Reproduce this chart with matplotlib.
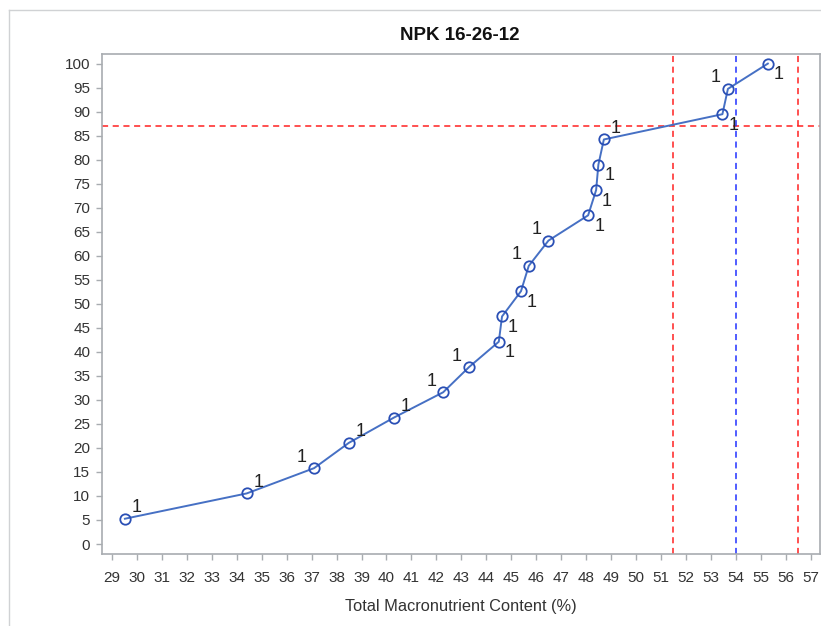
import matplotlib
matplotlib.use("Agg")
import matplotlib.pyplot as plt
from matplotlib.lines import Line2D

plt.rcParams["font.family"] = ["Liberation Sans", "DejaVu Sans"]

# ------------------------------------------------------------------- data
total_content = [29.52, 34.40, 37.10, 38.49, 40.30, 42.27, 43.31, 44.50, 44.63,
                 45.39, 45.70, 46.49, 48.08, 48.40, 48.49, 48.71, 53.46, 53.68,
                 55.28]
cum_percent = [5.26, 10.53, 15.79, 21.05, 26.32, 31.58, 36.84, 42.11, 47.37,
               52.63, 57.89, 63.16, 68.42, 73.68, 78.95, 84.21, 89.47, 94.74,
               100.0]
point_labels = ["1"] * 19

ref_y = 87
ref_x_red = [51.5, 56.5]
ref_x_blue = 54

x_ticks = list(range(29, 58))
y_ticks = list(range(0, 101, 5))

# label placement around each point (px): ar=above-right, al=above-left, br=below-right
placement = ["ar", "ar", "al", "ar", "ar", "al", "al", "br", "br", "br",
             "al", "al", "br", "br", "br", "ar", "br", "al", "br"]
offsets_px = {"ar": (12, 11), "al": (-12, 11), "br": (11, -11)}

# ------------------------------------------------------------------ figure
W, H, DPI = 821, 626, 100
fig = plt.figure(figsize=(W / DPI, H / DPI), dpi=DPI)
ax = fig.add_axes([101.7 / W, (H - 554) / H, (820 - 101.7) / W, 500 / H])

axis_gray = "#a8acb0"
text_col = "#333333"

ax.axhline(ref_y, color="#ff2020", lw=1.1, ls=(0, (4, 3)), zorder=1)
for xv in ref_x_red:
    ax.axvline(xv, color="#ff2020", lw=1.1, ls=(0, (4, 3)), zorder=1)
ax.axvline(ref_x_blue, color="#2030ff", lw=1.1, ls=(0, (4, 3)), zorder=1)

ax.plot(total_content, cum_percent, color="#4670c4", lw=1.4, zorder=2)
ax.plot(total_content, cum_percent, ls="none", marker="o", ms=7.5,
        mfc="none", mec="#2a4fb5", mew=1.3, zorder=3)

for xv, yv, lab, pl in zip(total_content, cum_percent, point_labels, placement):
    dx, dy = offsets_px[pl]
    ax.annotate(lab, (xv, yv), xytext=(dx * 0.72, dy * 0.72),
                textcoords="offset points", ha="center", va="center",
                fontsize=13, color="#222222", zorder=4)

ax.set_xlim(28.59, 57.37)
ax.set_ylim(-2.08, 102.0)
ax.set_xticks(x_ticks)
ax.set_yticks(y_ticks)
ax.tick_params(direction="out", length=4.2, width=1, color=axis_gray,
               labelsize=11, labelcolor=text_col)
ax.tick_params(axis="x", pad=8)
ax.tick_params(axis="y", pad=4)
for s in ax.spines.values():
    s.set_color(axis_gray)
    s.set_linewidth(1.2)

ax.set_xlabel("Total Macronutrient Content (%)", fontsize=11.8,
              color=text_col, labelpad=10)
fig.text(460 / W, 1 - 36 / H, "NPK 16-26-12", ha="center", va="center",
         fontsize=13.5, fontweight="bold", color="#111111")

# outer frame (top and left edges only visible)
fig.add_artist(Line2D([8.7 / W, 8.7 / W], [0, 1 - 10.3 / H],
                      transform=fig.transFigure, color="#d0d2d4", lw=1))
fig.add_artist(Line2D([8.7 / W, 1], [1 - 10.3 / H, 1 - 10.3 / H],
                      transform=fig.transFigure, color="#d0d2d4", lw=1))

fig.savefig("out.png", dpi=DPI)
